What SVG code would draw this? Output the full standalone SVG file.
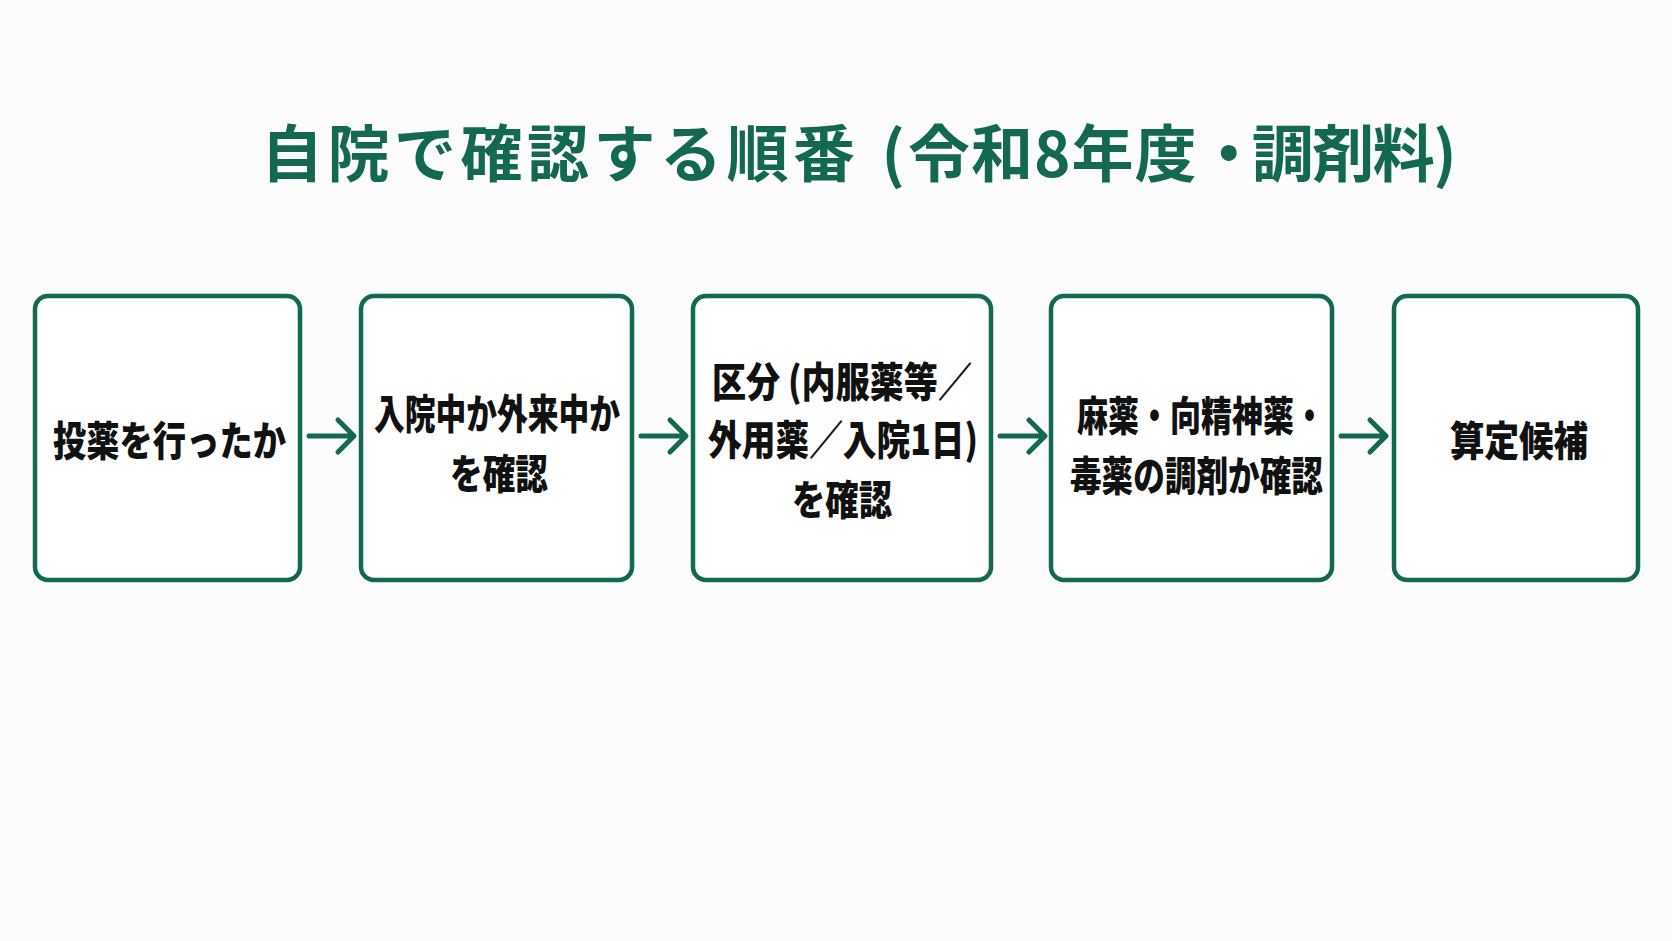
<svg xmlns="http://www.w3.org/2000/svg" width="1672" height="941" viewBox="0 0 1672 941">
  <style>
    .title { font-family: "Noto Sans CJK JP", "Noto Sans", sans-serif; font-weight: 700; font-size: 62px; fill: #12694f; }
    .box { fill: #ffffff; stroke: #12694f; stroke-width: 4.5; }
    .lbl { font-family: "Noto Sans CJK JP", "Noto Sans", sans-serif; font-weight: 900; font-size: 41px; fill: #111111; }
    .arrow { fill: none; stroke: #12694f; stroke-width: 5; stroke-linecap: round; stroke-linejoin: round; }
  </style>
  <rect x="0" y="0" width="1672" height="941" fill="#fcfcfc"/>
  <text class="title" x="261" y="177"><tspan letter-spacing="4.5">自院で確認する順番</tspan><tspan letter-spacing="8"> </tspan><tspan letter-spacing="3">(</tspan><tspan letter-spacing="1">令和8年度</tspan><tspan letter-spacing="-8">・</tspan><tspan letter-spacing="-1.5">調剤料)</tspan></text>

  <g id="node1">
    <rect class="box" x="35" y="296" width="265" height="284" rx="13"/>
    <text class="lbl" x="53" y="456" textLength="233" lengthAdjust="spacingAndGlyphs">投薬を行ったか</text>
  </g>
  <g id="node2">
    <rect class="box" x="361" y="296" width="271" height="284" rx="13"/>
    <text class="lbl" x="374" y="429" textLength="246" lengthAdjust="spacingAndGlyphs">入院中か外来中か</text>
    <text class="lbl" x="450" y="489" textLength="98" lengthAdjust="spacingAndGlyphs">を確認</text>
  </g>
  <g id="node3">
    <rect class="box" x="693" y="296" width="298" height="284" rx="13"/>
    <text class="lbl" x="712" y="397" textLength="260" lengthAdjust="spacingAndGlyphs">区分 (内服薬等／</text>
    <text class="lbl" x="708" y="455" textLength="270" lengthAdjust="spacingAndGlyphs">外用薬／入院1日)</text>
    <text class="lbl" x="792" y="515" textLength="100" lengthAdjust="spacingAndGlyphs">を確認</text>
  </g>
  <g id="node4">
    <rect class="box" x="1051" y="296" width="281" height="284" rx="13"/>
    <text class="lbl" x="1077" y="431" textLength="248" lengthAdjust="spacingAndGlyphs">麻薬・向精神薬・</text>
    <text class="lbl" x="1070" y="491" textLength="253" lengthAdjust="spacingAndGlyphs">毒薬の調剤か確認</text>
  </g>
  <g id="node5">
    <rect class="box" x="1394" y="296" width="244" height="284" rx="13"/>
    <text class="lbl" x="1450" y="456" textLength="138" lengthAdjust="spacingAndGlyphs">算定候補</text>
  </g>

  <g id="connectors">
    <path class="arrow" d="M309 436 H353 M338 420 L354 436 L338 452"/>
    <path class="arrow" d="M641 436 H685 M670 420 L686 436 L670 452"/>
    <path class="arrow" d="M1000 436 H1044 M1029 420 L1045 436 L1029 452"/>
    <path class="arrow" d="M1341 436 H1385 M1370 420 L1386 436 L1370 452"/>
  </g>
</svg>
